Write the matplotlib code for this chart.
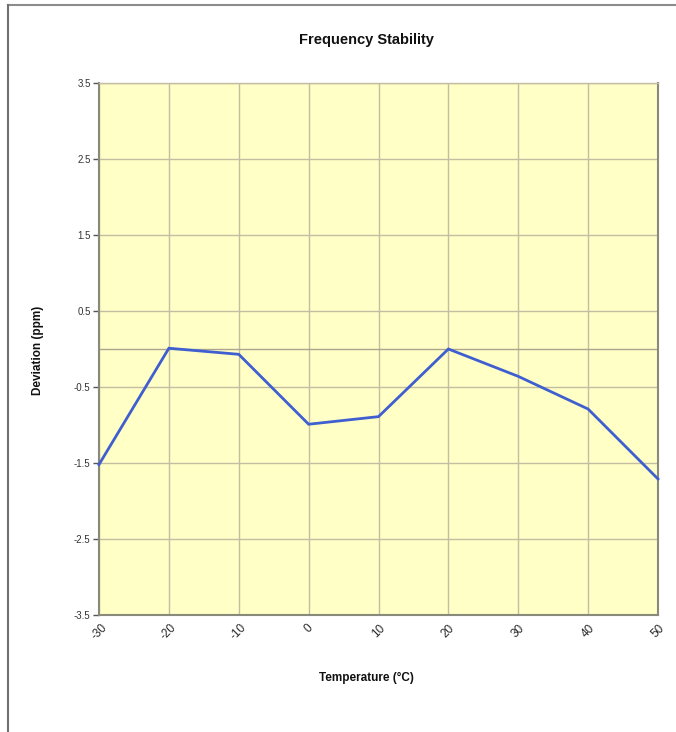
import matplotlib
matplotlib.use("Agg")
import matplotlib.pyplot as plt
from matplotlib.lines import Line2D
import numpy as np

plt.rcParams['font.family'] = ['Liberation Sans', 'DejaVu Sans']

# Frequency deviation versus temperature
temperature_c = [-30, -20, -10, 0, 10, 20, 30, 40, 50]
deviation_ppm = [-1.52, 0.01, -0.07, -0.99, -0.89, 0.0, -0.36, -0.79, -1.71]
y_ticks = [-3.5, -2.5, -1.5, -0.5, 0.5, 1.5, 2.5, 3.5]
x_tick_labels = ["-30", "-20", "-10", "0", "10", "20", "30", "40", "50"]

fig = plt.figure(figsize=(6.76, 7.32), dpi=100)
ax = fig.add_axes([99 / 676, 1 - 615 / 732, 559 / 676, 532 / 732])
ax.set_facecolor('#FFFFC6')

grid_color = '#C2BDA3'
ax.set_xlim(-30, 50)
ax.set_ylim(-3.5, 3.5)
ax.set_xticks(temperature_c)
ax.set_xticklabels(x_tick_labels, rotation=45, ha='center', va='top',
                   fontsize=8.5, color='#2A2A2A')
ax.set_yticks(y_ticks)
ax.set_yticklabels([f"{v:g}" for v in y_ticks], fontsize=7, color='#333333')
ax.grid(True, color=grid_color, linewidth=1.0)
ax.axhline(0, color='#A9A58F', linewidth=1.0, zorder=1)
ax.set_axisbelow(True)

for side in ('left', 'bottom', 'right', 'top'):
    ax.spines[side].set_color('#8A8A7A')
    ax.spines[side].set_linewidth(1.5)
ax.spines['top'].set_color(grid_color)
ax.spines['top'].set_linewidth(1.0)

ax.tick_params(axis='y', direction='out', length=4, width=1, color='#555555', pad=2)
ax.tick_params(axis='x', direction='out', length=0, pad=5)

ax.plot(temperature_c, deviation_ppm, color='#3F5FD0', linewidth=2.0,
        solid_joinstyle='miter', zorder=3, clip_on=False)

fig.text(366 / 676, 1 - 678 / 732, "Temperature (°C)", ha='center', va='center',
         fontsize=8.5, fontweight='bold', color='#111111')
fig.text(38 / 676, 1 - 350 / 732, "Deviation (ppm)", ha='center', va='center',
         rotation=90, fontsize=8.5, fontweight='bold', color='#111111')
fig.text(366 / 676, 1 - 40 / 732, "Frequency Stability", ha='center', va='center',
         fontsize=10.5, fontweight='bold', color='#111111')

# Chart-area frame along the top and left edges
fig.add_artist(Line2D([8 / 676, 1.0], [1 - 5 / 732, 1 - 5 / 732],
                      transform=fig.transFigure, color='#8C8C8C', linewidth=1.5))
fig.add_artist(Line2D([8 / 676, 8 / 676], [0.0, 1 - 5 / 732],
                      transform=fig.transFigure, color='#707070', linewidth=1.5))

fig.savefig("out.png", dpi=100, facecolor='white')
